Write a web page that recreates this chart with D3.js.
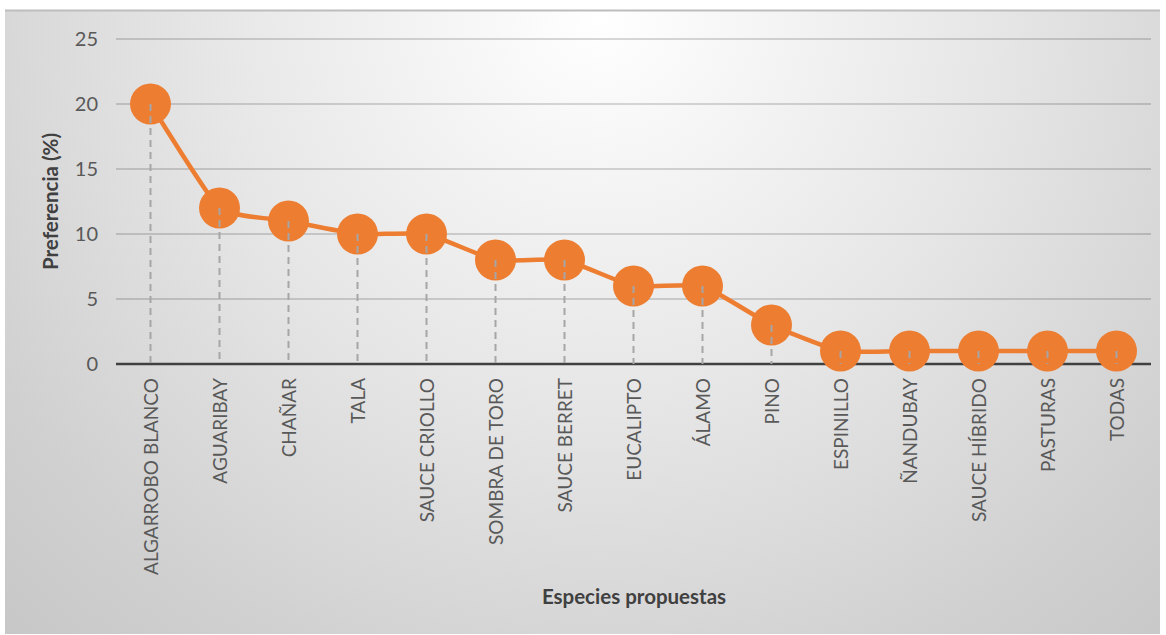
<!DOCTYPE html>
<html>
<head>
<meta charset="utf-8">
<script src="https://cdn.jsdelivr.net/npm/d3@7"></script>
<style>
  html, body { margin: 0; padding: 0; background: #ffffff; }
  svg { display: block; }
  text { font-family: Lato, "Open Sans", sans-serif; }
</style>
</head>
<body>
<svg id="chart" width="1166" height="635"></svg>
<script>
// Species proposed and the share of respondents preferring each one
const especies = [
  "ALGARROBO BLANCO", "AGUARIBAY", "CHAÑAR", "TALA", "SAUCE CRIOLLO",
  "SOMBRA DE TORO", "SAUCE BERRET", "EUCALIPTO", "ÁLAMO", "PINO",
  "ESPINILLO", "ÑANDUBAY", "SAUCE HÍBRIDO", "PASTURAS", "TODAS"
];
const preferencia = [20, 12, 11, 10, 10, 8, 8, 6, 6, 3, 1, 1, 1, 1, 1];
const yTicks = [0, 5, 10, 15, 20, 25];

const svg = d3.select("#chart");
const plot = { left: 116, right: 1151, top: 39, bottom: 364 };

// Background frame with a soft radial gradient
const defs = svg.append("defs");
const grad = defs.append("radialGradient")
  .attr("id", "bg")
  .attr("gradientUnits", "userSpaceOnUse")
  .attr("cx", 600).attr("cy", 10).attr("r", 880);
grad.append("stop").attr("offset", 0).attr("stop-color", "#ffffff");
grad.append("stop").attr("offset", 0.45).attr("stop-color", "#e6e6e6");
grad.append("stop").attr("offset", 0.8).attr("stop-color", "#d0d0d0");
grad.append("stop").attr("offset", 1).attr("stop-color", "#c6c6c6");

svg.append("rect")
  .attr("x", 5).attr("y", 10)
  .attr("width", 1155).attr("height", 624)
  .attr("fill", "url(#bg)");
svg.append("line")
  .attr("x1", 5).attr("x2", 1160).attr("y1", 10.5).attr("y2", 10.5)
  .attr("stroke", "#bdbdbd").attr("stroke-width", 2);

const x = d3.scalePoint()
  .domain(especies)
  .range([plot.left, plot.right])
  .padding(0.5);
const y = d3.scaleLinear()
  .domain([0, 25])
  .range([plot.bottom, plot.top]);

// Horizontal gridlines
svg.append("g")
  .selectAll("line")
  .data(yTicks.filter(d => d > 0))
  .join("line")
  .attr("x1", plot.left).attr("x2", plot.right)
  .attr("y1", d => y(d)).attr("y2", d => y(d))
  .attr("stroke", "rgba(0,0,0,0.15)")
  .attr("stroke-width", 2);

// Y axis labels
const yAxis = svg.append("g")
  .attr("transform", `translate(${plot.left - 18},0)`)
  .call(d3.axisLeft(y).tickValues(yTicks).tickSize(0).tickPadding(0));
yAxis.select(".domain").remove();
yAxis.selectAll("text")
  .attr("fill", "#595959")
  .style("font-size", "20px")
  .style("font-family", "Lato, sans-serif");

// X axis with rotated category labels
const xAxis = svg.append("g")
  .attr("transform", `translate(0,${plot.bottom})`)
  .call(d3.axisBottom(x).tickSize(0).tickPadding(0));
xAxis.select(".domain").remove();
xAxis.selectAll("text")
  .attr("fill", "#595959")
  .style("font-size", "19px")
  .style("font-family", "Lato, sans-serif")
  .attr("transform", "rotate(-90)")
  .attr("x", -14)
  .attr("y", 0)
  .attr("dy", "0.35em")
  .attr("text-anchor", "end");

// Baseline at zero
svg.append("line")
  .attr("x1", plot.left).attr("x2", plot.right)
  .attr("y1", y(0)).attr("y2", y(0))
  .attr("stroke", "#404040")
  .attr("stroke-width", 2.5);

// Lightly smoothed series line
const line = d3.line()
  .x((d, i) => x(especies[i]))
  .y(d => y(d))
  .curve(d3.curveCardinal.tension(0.55));
svg.append("path")
  .datum(preferencia)
  .attr("d", line)
  .attr("fill", "none")
  .attr("stroke", "#ED7D31")
  .attr("stroke-width", 4.5)
  .attr("stroke-linejoin", "round");

// Markers
svg.append("g")
  .selectAll("circle")
  .data(preferencia)
  .join("circle")
  .attr("cx", (d, i) => x(especies[i]))
  .attr("cy", d => y(d))
  .attr("r", 20.5)
  .attr("fill", "#ED7D31");

// Drop lines from each point down to the baseline
svg.append("g")
  .selectAll("line")
  .data(preferencia)
  .join("line")
  .attr("x1", (d, i) => x(especies[i]))
  .attr("x2", (d, i) => x(especies[i]))
  .attr("y1", d => y(d))
  .attr("y2", y(0))
  .attr("stroke", "#a6a6a6")
  .attr("stroke-width", 2)
  .attr("stroke-dasharray", "7,5");

// Axis titles
svg.append("text")
  .attr("transform", `translate(58,${(plot.top + plot.bottom) / 2}) rotate(-90)`)
  .attr("text-anchor", "middle")
  .attr("fill", "#404040")
  .style("font-size", "20.5px")
  .style("font-weight", "bold")
  .text("Preferencia (%)");

svg.append("text")
  .attr("x", 634).attr("y", 604)
  .attr("text-anchor", "middle")
  .attr("fill", "#404040")
  .style("font-size", "20.5px")
  .style("font-weight", "bold")
  .text("Especies propuestas");
</script>
</body>
</html>
